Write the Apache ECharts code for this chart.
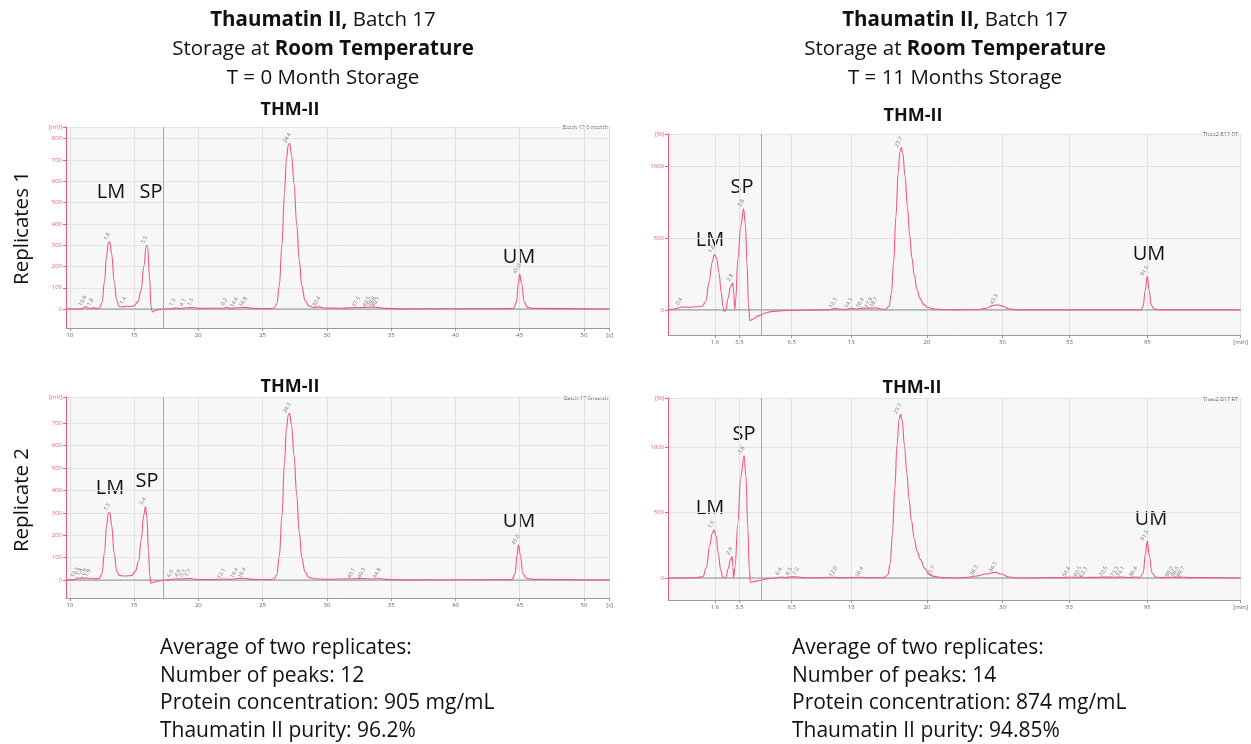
<!DOCTYPE html>
<html><head><meta charset="utf-8">
<script src="https://cdn.jsdelivr.net/npm/echarts@6/dist/echarts.min.js"></script>
<style>html,body{margin:0;padding:0;background:#fff}#c{width:1251px;height:744px}</style>
</head><body><div id="c"></div>
<script>
// ---------- DATA ----------
// Left panels: retention time [s] vs signal [mV]
const p1Trace = [[9.7,0],[10.8,0],[11.1,6],[11.25,12],[11.4,4],[11.7,3],[11.85,7],[12.0,3],[12.3,5],[12.5,30],[12.7,130],[12.85,250],[13.0,312],[13.1,316],[13.25,260],[13.45,130],[13.65,40],[13.85,12],[14.2,10],[14.35,14],[14.6,12],[15.0,15],[15.3,35],[15.55,90],[15.75,200],[15.95,298],[16.05,295],[16.2,150],[16.32,10],[16.42,-14],[16.6,-8],[17.0,-2],[17.5,0],[18.1,3],[18.25,6],[18.5,2],[19.0,6],[19.6,7],[20,3],[22.0,4],[22.2,8],[22.5,3],[23.0,6],[23.7,8],[24.2,3],[25.5,2],[25.9,5],[26.1,25],[26.3,110],[26.5,300],[26.7,545],[26.85,705],[27.0,772],[27.1,778],[27.25,725],[27.45,585],[27.65,400],[27.85,230],[28.05,110],[28.3,40],[28.6,14],[29.0,8],[29.4,10],[29.8,5],[31,4],[32.5,7],[33.3,9],[34.0,8],[34.5,3],[36,1],[44.5,2],[44.75,30],[44.9,120],[45.0,164],[45.15,120],[45.35,35],[45.6,8],[46,3],[52,0]];
const p2Trace = [[9.7,0],[10.4,2],[10.6,10],[10.8,5],[10.95,12],[11.1,6],[11.3,10],[11.5,6],[11.7,8],[12.0,5],[12.3,8],[12.5,30],[12.7,125],[12.85,240],[13.0,300],[13.1,302],[13.25,245],[13.45,120],[13.65,40],[13.85,20],[14.3,18],[14.8,20],[15.1,40],[15.35,85],[15.55,180],[15.75,290],[15.88,327],[16.0,280],[16.12,130],[16.22,20],[16.3,-13],[16.5,-10],[17,-3],[17.5,0],[18.0,4],[18.3,6],[18.7,5],[19.0,6],[19.4,7],[19.8,3],[21,2],[22.0,5],[22.5,3],[23.0,7],[23.6,8],[24.2,3],[25.5,2],[25.9,5],[26.1,24],[26.3,105],[26.5,285],[26.7,520],[26.85,675],[27.0,738],[27.1,744],[27.25,690],[27.45,555],[27.65,380],[27.85,215],[28.05,100],[28.3,36],[28.6,12],[29,6],[30,4],[32.1,6],[32.9,7],[33.5,5],[34.1,7],[34.6,3],[36,1],[44.4,2],[44.65,30],[44.8,110],[44.9,156],[45.05,115],[45.25,30],[45.5,8],[46,3],[52,0]];
// Right panels: position along the (non-linear) time axis vs signal
const p3Trace = [[0,0],[1,5],[2,15],[2.4,20],[3.5,18],[5,22],[6,25],[6.6,60],[7.2,200],[7.7,330],[8.1,385],[8.5,360],[8.9,260],[9.3,120],[9.6,20],[9.8,-10],[10.1,0],[10.5,80],[10.9,160],[11.3,186],[11.5,120],[11.65,5],[11.8,60],[12.2,350],[12.7,580],[13.2,704],[13.5,600],[13.8,320],[14.05,40],[14.3,-75],[14.8,-65],[15.7,-42],[17,-22],[18,-12],[20,-6],[22,-4],[25,-2],[28,0],[29.3,10],[29.8,4],[31,3],[32,10],[33,6],[34,12],[35.5,12],[36.4,14],[37.2,5],[38.0,3],[38.6,25],[39.0,110],[39.4,330],[39.8,650],[40.2,960],[40.5,1100],[40.75,1130],[41.0,1090],[41.4,930],[41.8,720],[42.2,520],[42.6,360],[43.0,240],[43.5,140],[44.0,80],[44.6,40],[45.3,18],[46.5,6],[48,2],[50,0],[54,2],[55.5,10],[56.6,28],[57.4,35],[58.3,28],[59.5,8],[61,0],[82.6,0],[83.0,30],[83.3,130],[83.7,233],[84.0,140],[84.4,30],[84.9,5],[86,0],[100,0]];
const p4Trace = [[0,0],[3,0],[5,3],[6.1,10],[6.7,80],[7.3,250],[7.7,340],[8.0,366],[8.4,320],[8.8,180],[9.2,60],[9.6,5],[10.1,2],[10.5,70],[10.9,140],[11.2,163],[11.35,80],[11.45,3],[11.7,80],[12.2,420],[12.7,770],[13.3,934],[13.6,780],[13.95,380],[14.2,60],[14.4,-33],[15,-28],[16.3,-15],[17.5,-5],[19.1,2],[19.8,8],[20.5,4],[21.6,9],[22.8,8],[23.5,3],[26,1],[29.3,6],[30,2],[33.9,6],[34.6,2],[37.2,2],[37.8,5],[38.4,25],[38.8,110],[39.2,340],[39.6,680],[40.0,1020],[40.35,1210],[40.6,1250],[40.9,1200],[41.3,1010],[41.7,800],[42.1,600],[42.5,440],[43.0,300],[43.5,205],[44.1,140],[44.8,75],[45.6,30],[46.4,12],[48,3],[50,0],[52,4],[53.9,15],[55.5,30],[57.2,43],[58.2,30],[59.5,8],[61,0],[69,3],[70,6],[71,5],[72,7],[73,4],[75,6],[76.5,7],[78,6],[79.5,7],[80.5,4],[81.7,8],[82.4,4],[83.0,40],[83.35,180],[83.7,282],[84.05,170],[84.5,40],[85.1,8],[86,3],[88,6],[89,7],[90,6],[91,3],[100,0]];

// Peak annotations [x, y, text]
const p1Peaks = [[11.2,12,'10.9'],[11.8,7,'1.8'],[13.1,316,'1.6'],[14.35,14,'1.4'],[16.0,298,'3.3'],[18.2,6,'1.3'],[19.0,6,'4.1'],[19.6,7,'1.5'],[22.2,8,'0.2'],[23.0,6,'14.6'],[23.7,8,'16.8'],[27.1,778,'24.4'],[29.4,10,'30.4'],[32.5,7,'37.5'],[33.3,9,'40.5'],[33.7,9,'39.8'],[34.0,8,'40.1'],[45.0,164,'45.0']];
const p2Peaks = [[10.6,10,'10.5'],[10.95,12,'1.8'],[11.3,10,'1.9'],[11.6,8,'1.9'],[13.1,302,'1.5'],[15.88,327,'3.4'],[18.0,4,'4.0'],[18.6,6,'4.9'],[19.0,6,'0.3'],[19.4,7,'1.7'],[22.0,5,'12.1'],[23.0,7,'14.4'],[23.6,8,'16.4'],[27.1,744,'24.3'],[32.1,6,'40.1'],[32.9,7,'40.3'],[34.1,7,'44.8'],[44.9,156,'45.0']];
const p3Peaks = [[2.4,20,'0.4'],[8.1,385,'1.6'],[11.3,186,'2.8'],[13.2,704,'3.8'],[29.3,10,'12.3'],[32,10,'14.1'],[34,12,'16.4'],[35.5,12,'17.9'],[36.4,14,'18.7'],[40.75,1130,'23.7'],[57.4,35,'43.3'],[83.7,233,'91.5']];
const p4Peaks = [[8.0,366,'1.5'],[11.2,163,'2.9'],[13.3,934,'3.8'],[19.8,8,'6.4'],[21.6,9,'6.5'],[22.8,8,'7.0'],[29.3,6,'12.0'],[33.9,6,'16.4'],[40.6,1250,'23.7'],[46.4,12,'25.7'],[53.9,15,'38.3'],[57.2,43,'44.5'],[70,6,'54.4'],[72,7,'60.5'],[73,4,'62.3'],[76.5,7,'70.5'],[78.5,6,'73.3'],[79.5,7,'74.1'],[81.7,8,'86.4'],[83.7,282,'91.5'],[88,6,'98.0'],[89,7,'98.5'],[90,6,'99.7']];

// Axis ticks
const leftXTicks = [10,15,20,25,30,35,40,45,50];
const p1YTicks = [0,100,200,300,400,500,600,700,800];
const p2YTicks = [0,100,200,300,400,500,600,700];
const rightXPos = [8.2,12.5,21.6,32,45.2,58.4,70.1,83.7];
const rightXLabels = ['1.6','3.5','6.5','13','20','30','53','95'];
const rightYTicks = [0,500,1000];

// Text content
const leftTitle = ['{b|Thaumatin II,} Batch 17','Storage at {b|Room Temperature}','T = 0 Month Storage'];
const rightTitle = ['{b|Thaumatin II,} Batch 17','Storage at {b|Room Temperature}','T = 11 Months Storage'];
const leftSummary = ['Average of two replicates:','Number of peaks: 12','Protein concentration: 905 mg/mL','Thaumatin II purity: 96.2%'];
const rightSummary = ['Average of two replicates:','Number of peaks: 14','Protein concentration: 874 mg/mL','Thaumatin II purity: 94.85%'];
const rowLabels = ['Replicates 1','Replicate 2'];
const panelTags = ['Batch 17 0 month','Batch 17 0month','Thau2 B17 RT','Thau2 B17 RT'];

// ---------- CHART ----------
const FONT = '"Open Sans", "Noto Sans", sans-serif';
const PINK = '#f2587c';
const chart = echarts.init(document.getElementById('c'));

const grids = [
  {left:66, top:127, width:543.6, height:201},
  {left:66, top:397, width:543.6, height:201},
  {left:668, top:134, width:575, height:201},
  {left:668, top:398, width:575, height:202}
];
const xRanges = [[9.7,52],[9.7,52],[0,100],[0,100]];
const yRanges = [[-89,855],[-80,817],[-175,1224],[-168,1374]];
const yTickSets = [p1YTicks,p2YTicks,rightYTicks,rightYTicks];
const yUnits = ['[mV]','[mV]','[%]','[%]'];
const traces = [p1Trace,p2Trace,p3Trace,p4Trace];
const peaks = [p1Peaks,p2Peaks,p3Peaks,p4Peaks];
const markerX = [17.3,17.3,16.3,16.3];

const xAxes = [], yAxes = [], series = [];
for (let i=0;i<4;i++){
  const left = i<2;
  const xt = left ? leftXTicks.concat([xRanges[i][1]]) : rightXPos.concat([100]);
  xAxes.push({
    type:'value', gridIndex:i, min:xRanges[i][0], max:xRanges[i][1],
    axisLine:{onZero:false, lineStyle:{color:'#9a9a9a', width:1}},
    axisTick:{customValues:xt, length:3, lineStyle:{color:'#999'}},
    axisLabel:{customValues:xt, fontSize:6, color:'#666', fontFamily:FONT, margin:4,
      formatter:(v)=>{ if (v===xRanges[i][1]) return left?'[s]':'[min]'; if(left) return String(v); const k=rightXPos.indexOf(v); return k>=0?rightXLabels[k]:''; }},
    splitLine:{show:true, lineStyle:{color:'#e0e0e0', width:1}}
  });
  const yt = yTickSets[i].concat([yRanges[i][1]]);
  yAxes.push({
    type:'value', gridIndex:i, min:yRanges[i][0], max:yRanges[i][1],
    axisLine:{show:true, lineStyle:{color:PINK, width:1}},
    axisTick:{show:true, customValues:yt, length:3, lineStyle:{color:PINK}},
    axisLabel:{customValues:yt, fontSize:6, color:PINK, fontFamily:FONT, margin:4,
      formatter:(v)=> v===yRanges[i][1] ? yUnits[i] : String(v)},
    splitLine:{show:true, lineStyle:{color:'#e4e4e4', width:1}}
  });
  // baseline
  series.push({type:'line', xAxisIndex:i, yAxisIndex:i, silent:true, symbol:'none',
    data:[[xRanges[i][0],0],[xRanges[i][1],0]], lineStyle:{color:'#6b7f7a', width:0.8}, z:2,
    markLine:{silent:true, symbol:'none', label:{show:false}, lineStyle:{color:'#a8a8a8', width:1, type:'solid'}, data:[{xAxis:markerX[i]}]}});
  series.push({type:'line', xAxisIndex:i, yAxisIndex:i, silent:true, symbol:'none',
    smooth:0.4, smoothMonotone:'x', data:traces[i], lineStyle:{color:PINK, width:1.1}, z:3});
  series.push({type:'scatter', xAxisIndex:i, yAxisIndex:i, silent:true, symbolSize:0,
    data:peaks[i].map(p=>({value:[p[0],p[1]], name:p[2]})), z:4,
    label:{show:true, formatter:(p)=>p.name, position:'top', distance:4, rotate:60, fontSize:5.5, color:'#555', fontFamily:FONT}});
}

const graphics = [];
function txt(x,y,text,opt){
  const fs = (opt && opt.style && opt.style.fontSize) || 20.5;
  graphics.push(Object.assign({type:'text', x:x, y:y, silent:true,
    style:Object.assign({text:text, fontFamily:FONT, fontSize:fs, fill:'#111', align:'center', verticalAlign:'middle',
      rich:{b:{fontWeight:'bold', fontFamily:FONT, fontSize:fs, fill:'#111'}}}, opt && opt.style)}, opt && opt.el));
}
[20,49,78].forEach((y,k)=>{ txt(323,y,leftTitle[k]); txt(955,y,rightTitle[k]); });
[648,676,703,731].forEach((y,k)=>{ txt(160,y,leftSummary[k],{style:{align:'left', fontSize:21}}); txt(792,y,rightSummary[k],{style:{align:'left', fontSize:21}}); });
txt(22,228,rowLabels[0],{el:{rotation:Math.PI/2}, style:{fontSize:20.5}});
txt(22,500,rowLabels[1],{el:{rotation:Math.PI/2}, style:{fontSize:20.5}});
// peak name labels
const peakNames = [
  [[111,192,'LM'],[151,192,'SP'],[519,257,'UM']],
  [[110,488,'LM'],[147,481,'SP'],[519,521,'UM']],
  [[710,240,'LM'],[742,187,'SP'],[1149,254,'UM']],
  [[710,508,'LM'],[744,434,'SP'],[1151,519,'UM']]
];
peakNames.forEach(ps=>ps.forEach(p=>txt(p[0],p[1],p[2],{style:{fontSize:20}})));
[[290,110],[290,387],[913,116],[912,388]].forEach(p=>txt(p[0],p[1],'THM-II',{style:{fontSize:18, fontWeight:'bold'}}));
[[608,127],[608,398],[1238,134],[1238,399]].forEach((p,k)=>txt(p[0],p[1],panelTags[k],{style:{fontSize:5.5, fill:'#555', align:'right'}}));

chart.setOption({
  backgroundColor:'#ffffff',
  animation:false,
  grid: grids.map(g=>Object.assign({show:true, backgroundColor:'#f7f7f7', borderWidth:0}, g)),
  xAxis:xAxes, yAxis:yAxes, series:series, graphic:graphics
});
</script></body></html>
